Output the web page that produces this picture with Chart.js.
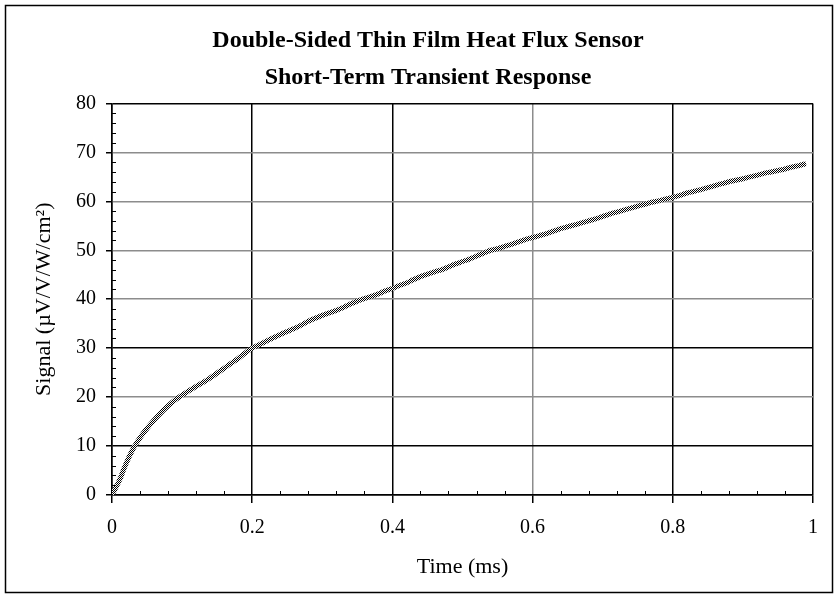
<!DOCTYPE html>
<html>

<head>
    <meta charset='utf-8'>
    <title>Thin Film Heat Flux Sensor</title>
    <script src="https://cdn.jsdelivr.net/npm/chart.js@4"></script>
    <style>
        body { margin: 0; background: #fff; }
        #wrap { width: 838px; height: 598px; }
    </style>
    <script>
        // valores (tiempo en ms, senal en uV/V/W/cm2)
        const tiempos = [
            0.00, 0.01, 0.02, 0.03, 0.04, 0.05, 0.06, 0.07, 0.08, 0.09,
            0.10, 0.11, 0.12, 0.13, 0.14, 0.15, 0.16, 0.17, 0.18, 0.19,
            0.20, 0.21, 0.22, 0.23, 0.24, 0.25, 0.26, 0.27, 0.28, 0.29,
            0.30, 0.31, 0.32, 0.33, 0.34, 0.35, 0.36, 0.37, 0.38, 0.39,
            0.40, 0.41, 0.42, 0.43, 0.44, 0.45, 0.46, 0.47, 0.48, 0.49,
            0.50, 0.51, 0.52, 0.53, 0.54, 0.55, 0.56, 0.57, 0.58, 0.59,
            0.60, 0.61, 0.62, 0.63, 0.64, 0.65, 0.66, 0.67, 0.68, 0.69,
            0.70, 0.71, 0.72, 0.73, 0.74, 0.75, 0.76, 0.77, 0.78, 0.79,
            0.80, 0.81, 0.82, 0.83, 0.84, 0.85, 0.86, 0.87, 0.88, 0.89,
            0.90, 0.91, 0.92, 0.93, 0.94, 0.95, 0.96, 0.97, 0.98, 0.99
        ];
        const senal = [
            0.0, 2.8, 6.4, 9.4, 11.7, 13.6, 15.3, 16.8, 18.2, 19.4,
            20.4, 21.3, 22.2, 23.0, 23.9, 24.9, 25.9, 26.9, 27.9, 29.0,
            30.0, 30.7, 31.4, 32.1, 32.8, 33.4, 34.0, 34.7, 35.5, 36.1,
            36.7, 37.2, 37.7, 38.3, 39.0, 39.6, 40.1, 40.6, 41.1, 41.7,
            42.2, 42.8, 43.3, 44.0, 44.6, 45.1, 45.6, 46.0, 46.6, 47.2,
            47.7, 48.2, 48.8, 49.4, 50.0, 50.3, 50.8, 51.2, 51.7, 52.2,
            52.6, 53.0, 53.4, 53.9, 54.4, 54.8, 55.2, 55.6, 56.0, 56.4,
            56.9, 57.4, 57.8, 58.2, 58.6, 59.0, 59.4, 59.8, 60.1, 60.5,
            60.8, 61.2, 61.7, 62.0, 62.4, 62.8, 63.2, 63.6, 64.0, 64.3,
            64.6, 65.0, 65.3, 65.7, 66.0, 66.3, 66.6, 67.0, 67.3, 67.7
        ];
        const ticksX = [0, 0.2, 0.4, 0.6, 0.8, 1];
        const ticksY = [0, 10, 20, 30, 40, 50, 60, 70, 80];
        const menoresX = [0.04, 0.08, 0.12, 0.16, 0.24, 0.28, 0.32, 0.36, 0.44, 0.48, 0.52, 0.56,
            0.64, 0.68, 0.72, 0.76, 0.84, 0.88, 0.92, 0.96];
        const menoresY = [2, 4, 6, 8, 12, 14, 16, 18, 22, 24, 26, 28, 32, 34, 36, 38, 42, 44, 46, 48,
            52, 54, 56, 58, 62, 64, 66, 68, 72, 74, 76, 78];

        const fuente = "'Liberation Serif', 'Times New Roman', serif";
        const gris = '#8c8c8c';
        const colorX = ['#000', '#000', '#000', gris, '#000', '#000'];
        const colorY = ['#000', '#000', gris, '#000', gris, gris, gris, gris, '#000'];

        onload = dibujarGrafico;

        function patronCuadros() {
            // trama de cuadritos blanco/negro para imitar los marcadores
            let c = document.createElement('canvas');
            c.width = 2; c.height = 2;
            let g = c.getContext('2d');
            g.fillStyle = '#fff';
            g.fillRect(0, 0, 2, 2);
            g.fillStyle = '#000';
            g.fillRect(0, 0, 1, 1);
            g.fillRect(1, 1, 1, 1);
            return g.createPattern(c, 'repeat');
        }

        const extras = {
            id: 'extras',
            afterDraw(chart) {
                const ctx = chart.ctx;
                const x = chart.scales.x, y = chart.scales.y;
                const area = chart.chartArea;
                ctx.save();
                ctx.strokeStyle = '#000';
                ctx.lineWidth = 1;
                ctx.beginPath();
                menoresY.forEach(v => {
                    let py = Math.round(y.getPixelForValue(v)) + 0.5;
                    ctx.moveTo(area.left, py);
                    ctx.lineTo(area.left + 4, py);
                });
                menoresX.forEach(v => {
                    let px = Math.round(x.getPixelForValue(v)) + 0.5;
                    ctx.moveTo(px, area.bottom);
                    ctx.lineTo(px, area.bottom - 4);
                });
                ctx.stroke();
                // marco exterior
                ctx.lineWidth = 1.5;
                ctx.strokeRect(5.5, 5.5, 827, 587);
                ctx.restore();
            }
        };

        function dibujarGrafico() {
            var ctx = document.getElementById('myChart').getContext('2d');
            var chart = new Chart(ctx, {
                type: 'line',
                data: {
                    labels: tiempos,
                    datasets: [{
                        label: 'Signal',
                        data: tiempos.map((t, i) => ({ x: t, y: senal[i] })),
                        borderColor: patronCuadros(),
                        borderWidth: 5,
                        pointRadius: 0,
                        tension: 0.3,
                        fill: false
                    }]
                },
                options: {
                    responsive: false,
                    animation: false,
                    layout: { padding: { top: 0, left: 43, right: 25, bottom: 0 } },
                    plugins: {
                        legend: { display: false },
                        tooltip: { enabled: false },
                        title: {
                            display: true,
                            text: ['Double-Sided Thin Film Heat Flux Sensor', 'Short-Term Transient Response'],
                            color: '#000',
                            font: { family: fuente, size: 24, weight: 'bold', lineHeight: 1.55 },
                            padding: { top: 22, bottom: 7 }
                        }
                    },
                    scales: {
                        x: {
                            type: 'linear',
                            min: 0, max: 1,
                            afterBuildTicks: s => { s.ticks = ticksX.map(v => ({ value: v })); },
                            afterFit: s => { s.height = 103; },
                            ticks: {
                                color: '#000',
                                font: { family: fuente, size: 20 },
                                padding: 13,
                                maxRotation: 0,
                                callback: v => String(v)
                            },
                            grid: {
                                color: c => colorX[c.index],
                                lineWidth: 1.5,
                                tickColor: '#000',
                                tickLength: 8
                            },
                            border: { color: '#000', width: 1.5 },
                            title: {
                                display: true,
                                text: 'Time (ms)',
                                color: '#000',
                                font: { family: fuente, size: 22 },
                                padding: { top: 0, bottom: 18 }
                            }
                        },
                        y: {
                            min: 0, max: 80,
                            afterBuildTicks: s => { s.ticks = ticksY.map(v => ({ value: v })); },
                            afterFit: s => { s.width = 69; },
                            ticks: {
                                color: '#000',
                                font: { family: fuente, size: 20 },
                                padding: 10
                            },
                            grid: {
                                color: c => colorY[c.index],
                                lineWidth: 1.5,
                                tickColor: '#000',
                                tickLength: 6
                            },
                            border: { color: '#000', width: 1.5 },
                            title: {
                                display: true,
                                text: 'Signal (µV/V/W/cm²)',
                                color: '#000',
                                font: { family: fuente, size: 22 },
                                padding: { top: -12, bottom: 0 }
                            }
                        }
                    }
                },
                plugins: [extras]
            });
        }
    </script>
</head>

<body>
    <div id="wrap"><canvas id="myChart" width="838" height="598"></canvas></div>
</body>

</html>
